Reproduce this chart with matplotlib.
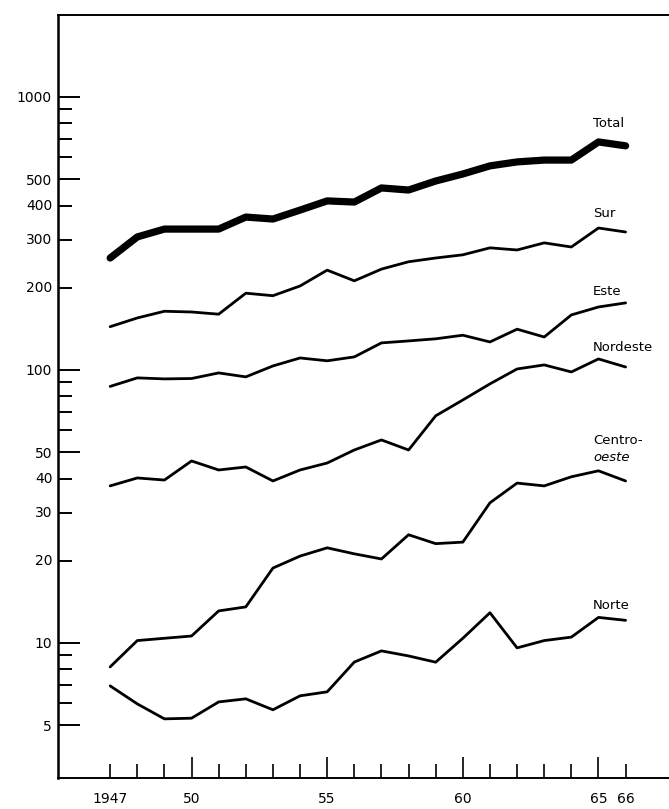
import matplotlib
matplotlib.use("Agg")
from matplotlib import pyplot as plt
from matplotlib.ticker import FixedLocator, NullFormatter

# years on the x axis
years = list(range(1947, 1967))

# series values (log scale)
total = [257, 307, 328, 328, 328, 363, 357, 385, 416, 412,
         464, 456, 492, 522, 559, 578, 587, 587, 684, 662]
sur = [144, 155, 164, 163, 160, 191, 187, 203, 232, 212,
       234, 249, 257, 264, 280, 275, 292, 282, 331, 320]
este = [87, 93.5, 92.7, 93, 97.5, 94.3, 103.4, 110.6, 108, 111.6,
        125.6, 127.7, 130, 134, 126.6, 141, 132, 159, 170, 176]
nordeste = [37.6, 40.2, 39.5, 46.4, 43.0, 44.1, 39.2, 43.0, 45.6, 50.9,
            55.4, 50.9, 67.9, 77.6, 88.9, 100.8, 104.3, 98.3, 109.7, 102.5]
centro_oeste = [8.17, 10.2, 10.4, 10.6, 13.1, 13.55, 18.8, 20.8, 22.3, 21.2,
                20.3, 24.9, 23.1, 23.4, 32.6, 38.5, 37.6, 40.6, 42.7, 39.2]
norte = [6.96, 5.98, 5.27, 5.3, 6.08, 6.24, 5.69, 6.40, 6.62, 8.51,
         9.35, 8.96, 8.5, 10.4, 12.9, 9.59, 10.2, 10.5, 12.4, 12.1]

# tick labels
y_labeled = [5, 10, 20, 30, 40, 50, 100, 200, 300, 400, 500, 1000]
y_minor = [6, 7, 8, 9, 60, 70, 80, 90, 600, 700, 800, 900]
x_labels = {1947: "1947", 1950: "50", 1955: "55", 1960: "60", 1965: "65", 1966: "66"}

plt.rcParams["font.family"] = ["DejaVu Sans"]

fig = plt.figure(figsize=(6.69, 8.09), dpi=100)
ax = fig.add_axes([0.086, 0.0383, 0.914, 0.9432])

ax.plot(years, total, color="black", lw=5.2, solid_capstyle="round", solid_joinstyle="round")
for series in [sur, este, nordeste, centro_oeste, norte]:
    ax.plot(years, series, color="black", lw=2.0, solid_capstyle="round", solid_joinstyle="round")

ax.set_yscale("log")
ax.set_ylim(3.2, 1996)
ax.set_xlim(1945.06, 1967.6)

# y ticks: long ones, short labeled ones, short unlabeled ones
long_y = [5, 10, 50, 100, 500, 1000]
short_y = [v for v in y_labeled if v not in long_y] + y_minor
ax.yaxis.set_major_locator(FixedLocator(long_y))
ax.yaxis.set_minor_locator(FixedLocator(short_y))
ax.set_yticklabels([str(v) for v in long_y])
ax.yaxis.set_minor_formatter(NullFormatter())
ax.tick_params(axis="y", which="major", direction="in", length=16, width=1.4,
               labelsize=10, pad=4)
ax.tick_params(axis="y", which="minor", direction="in", length=10, width=1.4)
for v in [20, 30, 40, 200, 300, 400]:
    ax.text(-0.008, v, str(v), transform=ax.get_yaxis_transform(),
            ha="right", va="center", fontsize=10)

# x ticks (labels drawn as text so they share one baseline)
long_x = [1950, 1955, 1960, 1965]
short_x = [y for y in years if y not in long_x]
ax.xaxis.set_major_locator(FixedLocator(long_x))
ax.xaxis.set_minor_locator(FixedLocator(short_x))
ax.xaxis.set_major_formatter(NullFormatter())
ax.xaxis.set_minor_formatter(NullFormatter())
ax.tick_params(axis="x", which="major", direction="in", length=15, width=1.2)
ax.tick_params(axis="x", which="minor", direction="in", length=10, width=1.2)
for y, s in x_labels.items():
    ax.text(y, -0.018, s, transform=ax.get_xaxis_transform(),
            ha="center", va="top", fontsize=10)

ax.spines["right"].set_visible(False)
ax.spines["left"].set_linewidth(1.8)
ax.spines["bottom"].set_linewidth(1.4)
ax.spines["top"].set_linewidth(1.4)

# series labels
lx = 1964.8
lab = dict(fontsize=9.5, va="center")
ax.text(lx, 796, "Total", **lab)
ax.text(lx, 373, "Sur", **lab)
ax.text(lx, 193, "Este", **lab)
ax.text(lx, 121, "Nordeste", **lab)
ax.text(lx, 55, "Centro-", **lab)
ax.text(lx, 47.6, "oeste", fontstyle="italic", **lab)
ax.text(lx, 13.7, "Norte", **lab)

fig.savefig("out.png", dpi=100)
